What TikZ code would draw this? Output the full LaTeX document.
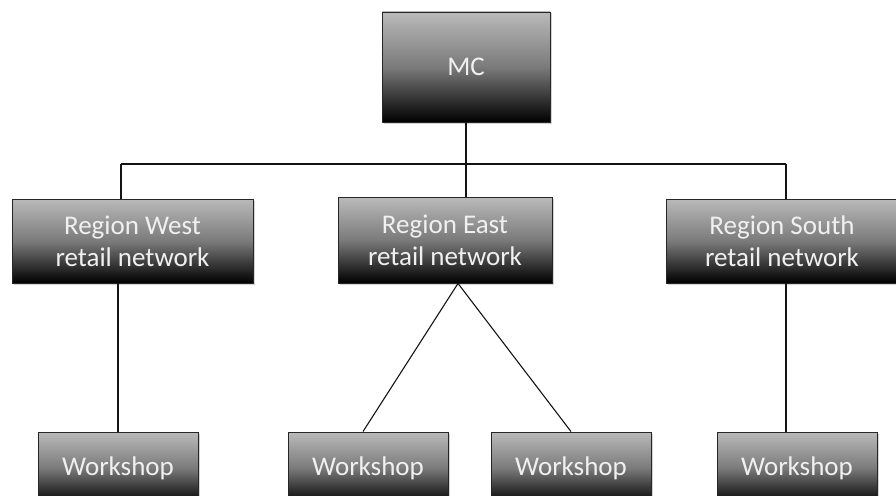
\documentclass[tikz,border=0pt]{standalone}
\usepackage{fontspec}
\setmainfont{Carlito}
\usetikzlibrary{shadows}
\definecolor{boxtop}{RGB}{186,186,186}
\definecolor{boxtxt}{RGB}{240,240,240}
\definecolor{linec}{RGB}{20,20,20}
\tikzset{
  orgbox/.style={draw=black!85, line width=0.9pt, top color=boxtop, bottom color=black,
    middle color=black!52, shading angle=0,
    text=boxtxt, font=\fontsize{27}{32}\selectfont, align=center, inner sep=0pt,
    drop shadow={shadow xshift=1.5pt, shadow yshift=-1.5pt, opacity=0.35}},
  conn/.style={draw=linec, line width=1.1pt}
}
\begin{document}
\begin{tikzpicture}[x=1pt,y=-1pt]
\useasboundingbox (0,0) rectangle (896,495);
\clip (0,0) rectangle (896,495);
\node[orgbox, minimum width=168pt, minimum height=110pt] (MC) at (466,67) {MC};
\node[orgbox, minimum width=241pt, minimum height=84pt] (West) at (132.5,241) {Region West\\retail network};
\node[orgbox, minimum width=214pt, minimum height=86pt] (East) at (445,240) {Region East\\retail network};
\node[orgbox, minimum width=232pt, minimum height=84pt] (South) at (782,241) {Region South\\retail network};
\node[orgbox, minimum width=160pt, minimum height=72pt] (W1) at (118,468) {Workshop};
\node[orgbox, minimum width=160pt, minimum height=72pt] (W2) at (368,468) {Workshop};
\node[orgbox, minimum width=160pt, minimum height=72pt] (W3) at (571,468) {Workshop};
\node[orgbox, minimum width=160pt, minimum height=72pt] (W4) at (797,468) {Workshop};
\coordinate (jW) at (121,164);
\coordinate (jE) at (466,164);
\coordinate (jS) at (786,164);
\draw[conn] (MC.south) -- (jE);
\draw[conn] (jW) -- (jS);
\draw[conn] (jW) -- (jW |- West.north);
\draw[conn] (jE) -- (jE |- East.north);
\draw[conn] (jS) -- (jS |- South.north);
\draw[conn] (West.south -| W1.north) -- (W1.north);
\draw[conn] ([xshift=13pt]East.south) -- ([xshift=-5pt]W2.north);
\draw[conn] ([xshift=13pt]East.south) -- (W3.north);
\draw[conn] (South.south -| jS) -- (W4.north -| jS);
\end{tikzpicture}
\end{document}
